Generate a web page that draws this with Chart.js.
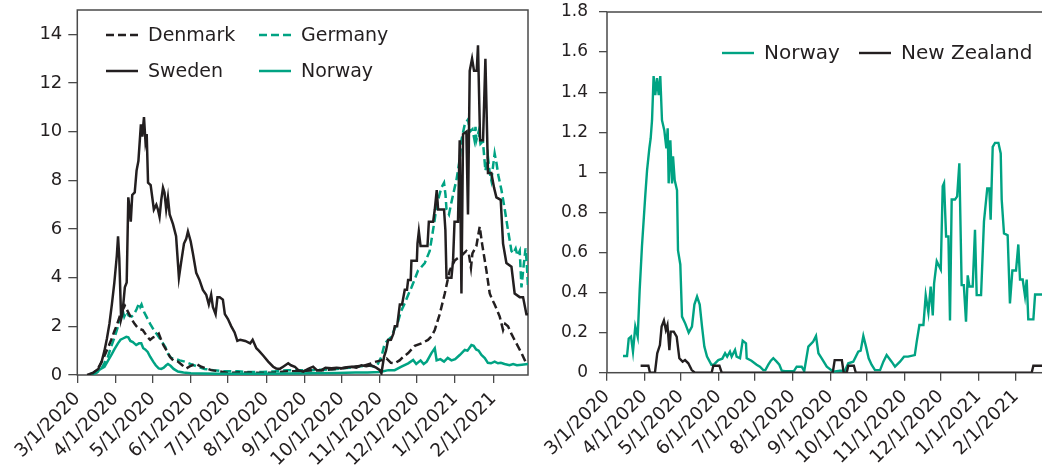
<!DOCTYPE html>
<html>
<head>
<meta charset="utf-8">
<script src="https://cdn.jsdelivr.net/npm/chart.js@4.4.0/dist/chart.umd.min.js"></script>
<style>
  html, body { margin: 0; padding: 0; background: #fff; overflow: hidden; width: 1042px; height: 469px; }
  #left { position: absolute; left: 0; top: 0; }
  #right { position: absolute; left: 520px; top: 0; }
</style>
</head>
<body>
<canvas id="left" width="530" height="469" style="width:530px;height:469px"></canvas>
<canvas id="right" width="540" height="469" style="width:540px;height:469px"></canvas>
<script>
// x values are days since 3/1/2020
const monthDays = [0, 31, 61, 92, 122, 153, 184, 214, 245, 275, 306, 337];
const monthLabels = ['3/1/2020', '4/1/2020', '5/1/2020', '6/1/2020', '7/1/2020', '8/1/2020',
  '9/1/2020', '10/1/2020', '11/1/2020', '12/1/2020', '1/1/2021', '2/1/2021'];
const leftYTicks = [0, 2, 4, 6, 8, 10, 12, 14];
const rightYTicks = [0, 0.2, 0.4, 0.6, 0.8, 1, 1.2, 1.4, 1.6, 1.8];

// left panel
const denmark = [[10,0],[14,0.1],[17,0.3],[19.4,0.5],[23,0.9],[27.5,1.45],[30,1.8],[31.6,2.0],[33,2.2],[35,2.5],[37,2.7],[38.5,2.85],[40,2.7],[42,2.5],[44,2.3],[46.4,2.1],[48,2.0],[50,1.9],[53,1.85],[55,1.7],[57,1.55],[59,1.45],[61.5,1.55],[64,1.6],[66,1.7],[67.5,1.5],[70,1.2],[72.4,1.0],[75,0.75],[77.7,0.6],[81.5,0.55],[85,0.4],[88.3,0.27],[91,0.35],[94,0.42],[96.6,0.45],[100.4,0.34],[104.7,0.27],[108.5,0.2],[115,0.15],[122,0.08],[130,0.1],[140,0.1],[150,0.08],[160,0.1],[170,0.15],[180,0.15],[190,0.2],[200,0.2],[210,0.25],[218,0.3],[225,0.35],[232,0.38],[238,0.48],[242,0.55],[246,0.6],[250.4,0.68],[254,0.5],[257,0.48],[261,0.6],[264,0.75],[268,0.9],[273.3,1.2],[278.7,1.3],[284,1.44],[287,1.6],[289.5,1.85],[293.5,2.5],[297.6,3.35],[301.6,4.3],[305.6,4.7],[308,4.8],[311.1,4.9],[313,5.0],[315.1,5.1],[317,5.0],[318.8,4.4],[320,5.0],[323.2,5.3],[325.9,6.1],[327.8,5.4],[331.3,4.3],[334,3.35],[336,3.1],[338,2.9],[342.1,2.4],[344.8,1.85],[346.5,2.1],[348.8,2.0],[351.5,1.7],[353.5,1.5],[355.6,1.3],[359.7,0.9],[362.9,0.55],[365,0.5]];
const germany = [[12,0],[16,0.1],[20,0.3],[24.8,0.75],[27,1.1],[30.5,1.6],[33,2.0],[35,2.3],[37,2.6],[38,2.4],[39.7,2.6],[41.5,2.45],[44,2.4],[46,2.5],[48,2.7],[50,2.95],[51,2.8],[52,2.9],[54,2.6],[56,2.4],[59,2.1],[62,1.85],[65.9,1.57],[68,1.4],[71.3,1.15],[73,0.9],[76,0.7],[80,0.65],[83,0.6],[87,0.55],[92,0.45],[97.7,0.34],[103,0.25],[110,0.2],[120,0.15],[130,0.15],[140,0.12],[150,0.12],[160,0.15],[170,0.2],[180,0.2],[190,0.2],[200,0.22],[210,0.25],[220,0.3],[228,0.35],[235,0.4],[240,0.35],[242.3,0.34],[246.3,0.75],[249,1.3],[252,1.45],[254.4,1.57],[257,1.9],[259.8,2.2],[262,2.6],[265.2,2.95],[268,3.3],[270.6,3.6],[273,3.9],[276,4.3],[278,4.4],[281.4,4.6],[283,4.8],[285.4,5.1],[287,5.6],[289.5,6.4],[291,7.0],[292.2,7.2],[294.9,7.7],[297,7.9],[298.2,7.4],[299,6.8],[301,6.6],[303,7.1],[305.6,7.7],[307,8.0],[308.3,8.4],[310,9.0],[311.1,9.65],[312.5,10.0],[313.8,10.3],[316.4,10.5],[318,10.0],[320,10.1],[321.5,9.7],[322.5,10.2],[323.2,9.65],[325,10.0],[326.5,9.5],[328.5,9.6],[330.5,8.4],[332.6,8.95],[334,8.3],[335.3,8.0],[336.5,8.5],[338,9.1],[339.5,8.7],[341,8.2],[343.5,7.6],[346.2,6.8],[348.8,5.95],[351.6,5.1],[353,5.0],[355,5.2],[356.5,4.9],[358.3,5.1],[359.7,3.6],[361.5,4.5],[363,5.2],[364,4.6],[365,3.6]];
const sweden = [[8,0],[13,0.1],[17,0.25],[20,0.6],[22,1.0],[24,1.5],[26,2.1],[28,2.9],[30,3.8],[32,4.9],[33,5.7],[34,4.8],[35.5,2.3],[36.5,2.5],[38.5,3.6],[40,3.8],[41.3,7.3],[42.2,6.9],[43.3,6.3],[44.5,7.4],[46.5,7.5],[48,8.4],[49.5,8.8],[51.5,10.3],[52.6,9.8],[54,10.6],[55.2,9.6],[56.2,9.9],[57.3,7.9],[59.4,7.8],[62,6.8],[64,7.0],[65.3,6.8],[66.6,6.5],[68,7.2],[69.4,7.7],[70.6,7.5],[72,6.8],[73.4,7.3],[74.8,6.6],[77.5,6.2],[80,5.7],[81.5,4.6],[82.3,4.0],[84,4.6],[86.4,5.4],[88.2,5.6],[89.6,5.9],[91.8,5.5],[93.6,5.0],[96.3,4.2],[99,3.9],[101.7,3.5],[104.4,3.3],[106.5,2.9],[108.4,3.3],[109.8,2.8],[112,2.5],[113.5,3.2],[115.3,3.2],[117.9,3.1],[119.5,2.5],[122,2.3],[124.7,2.0],[127.4,1.75],[129.6,1.4],[132,1.45],[136,1.4],[140,1.3],[142,1.45],[145,1.1],[147,1.0],[150.5,0.8],[154.6,0.55],[158.6,0.34],[161,0.27],[164,0.25],[167,0.35],[170.8,0.48],[173,0.4],[176.2,0.34],[179,0.2],[183,0.14],[187,0.25],[191,0.34],[194,0.2],[197.8,0.2],[201,0.3],[205.9,0.28],[210,0.3],[214,0.28],[218,0.32],[222,0.34],[226,0.3],[230,0.4],[234,0.36],[238,0.4],[242,0.3],[245,0.2],[246.3,0.07],[248.4,0.75],[250,1.0],[251.7,1.44],[254,1.45],[256,1.7],[257.1,2.0],[259,2.0],[261.2,2.9],[263,2.9],[265.2,3.5],[267,3.5],[267.9,3.9],[270,3.9],[270.6,4.7],[275,4.7],[275.5,5.4],[276.6,5.9],[278,5.3],[283.6,5.3],[284.7,6.3],[288.2,6.3],[289.5,6.8],[291.1,7.6],[292.2,6.8],[297,6.8],[298.1,5.95],[299,4.0],[303,4.0],[304.3,4.7],[305.5,6.3],[308.3,6.3],[309.7,9.65],[311.1,3.35],[312.4,9.9],[315.1,10.0],[316.4,6.6],[317.8,12.5],[319.7,13.0],[321.3,12.5],[323.5,12.5],[324.5,13.55],[326.2,9.65],[328.6,9.65],[330.5,13.0],[332.6,8.3],[335.3,8.3],[337.5,7.7],[339.4,7.3],[342.9,7.2],[344.8,5.4],[347.5,4.6],[351.6,4.45],[354.2,3.35],[358.3,3.2],[361,3.2],[363.7,2.5],[365,2.5]];
const norwayLeft = [[11,0.05],[15,0.12],[19,0.25],[22,0.34],[25,0.6],[27.5,0.82],[30,1.05],[32.9,1.3],[35,1.45],[37,1.5],[39.7,1.57],[41.3,1.55],[43,1.4],[45,1.35],[47.7,1.23],[50,1.3],[51.8,1.3],[53.4,1.1],[55,1.05],[57,0.95],[59,0.75],[61.5,0.55],[63.5,0.4],[65.9,0.27],[68,0.25],[70,0.3],[72,0.4],[73.4,0.45],[75.5,0.38],[78,0.25],[81.5,0.14],[86,0.1],[92,0.07],[100,0.06],[115,0.05],[130,0.05],[150,0.05],[170,0.06],[190,0.07],[210,0.08],[225,0.1],[235,0.1],[245,0.12],[252,0.2],[257,0.2],[262.5,0.34],[268,0.48],[272,0.62],[274.5,0.45],[278,0.6],[280.5,0.45],[283,0.55],[286.8,0.9],[289.5,1.1],[291,0.6],[294,0.65],[297,0.55],[300,0.7],[303,0.6],[306,0.65],[309.7,0.82],[313.8,1.03],[316,1.0],[319.2,1.23],[321,1.2],[323,1.05],[325,1.0],[327.3,0.82],[330,0.7],[332.5,0.5],[335,0.48],[338,0.55],[340.7,0.48],[343,0.5],[346,0.45],[350,0.4],[353,0.45],[356,0.4],[360,0.42],[365,0.45]];

// right panel
const norwayRight = [[13.2,0.083],[16.5,0.083],[17.9,0.17],[19.8,0.18],[21.4,0.105],[23.3,0.23],[25.3,0.18],[26.9,0.41],[28.8,0.63],[31.6,0.89],[33,1.01],[34.9,1.12],[36,1.17],[37.1,1.26],[38.4,1.48],[39.8,1.385],[41.2,1.47],[42.6,1.385],[43.9,1.48],[45.3,1.26],[47.2,1.21],[48.9,1.12],[50,1.22],[50.8,0.945],[52.2,1.16],[53.6,0.945],[54.4,1.08],[55.8,0.96],[57.7,0.91],[58.5,0.61],[60.4,0.54],[61.8,0.28],[64.5,0.245],[67.3,0.2],[70,0.23],[72,0.34],[74.2,0.38],[76.4,0.34],[78.3,0.23],[80.2,0.13],[82.4,0.08],[86,0.04],[88,0.04],[91.7,0.063],[95,0.07],[97.3,0.097],[99,0.08],[101.3,0.105],[102.7,0.08],[105.5,0.113],[106.8,0.08],[109.6,0.072],[111.8,0.16],[114.5,0.147],[115.1,0.072],[119,0.06],[123.3,0.04],[126,0.03],[128.8,0.013],[130.5,0.013],[132.9,0.04],[135,0.06],[137,0.072],[139.8,0.055],[142,0.04],[144,0.01],[146.7,0.008],[154,0.008],[156.3,0.03],[160.4,0.03],[162.5,0.008],[165.9,0.13],[169.9,0.155],[172.2,0.183],[174.2,0.097],[176.9,0.072],[181.1,0.03],[186.5,0.005],[192,0.01],[196,0.01],[198.8,0.047],[202.9,0.055],[207,0.105],[209,0.11],[211.2,0.183],[213.4,0.13],[215.6,0.072],[218,0.04],[220.8,0.013],[225,0.013],[227.7,0.055],[230.4,0.088],[234.5,0.055],[237.3,0.03],[241.4,0.055],[244.7,0.08],[248,0.08],[253.6,0.088],[255.2,0.155],[257.4,0.238],[260.7,0.238],[262.6,0.387],[264.8,0.3],[266.7,0.43],[268.4,0.286],[269.5,0.446],[271.7,0.556],[275,0.515],[276.6,0.93],[277.7,0.946],[279.4,0.68],[281.3,0.68],[282.6,0.26],[284,0.864],[286.7,0.864],[288.5,0.88],[290.3,1.045],[292.2,0.437],[294,0.437],[295.8,0.255],[297.2,0.486],[298.6,0.43],[301.3,0.43],[303.2,0.713],[304.6,0.387],[308.2,0.387],[310.6,0.755],[313.3,0.92],[315,0.92],[316.1,0.763],[317.8,1.127],[319.7,1.147],[322.5,1.147],[324.4,1.094],[325.2,0.864],[327.1,0.695],[330.1,0.686],[332,0.346],[334,0.51],[337,0.51],[338.9,0.64],[340.3,0.465],[342.5,0.465],[344.4,0.383],[345.8,0.465],[347.1,0.266],[351.3,0.266],[352.7,0.39],[365,0.39]];
const newZealand = [[27.7,0.035],[34.1,0.035],[35.4,0],[39.5,0],[41.4,0.097],[43.6,0.138],[45,0.23],[46.9,0.26],[48.5,0.213],[49.8,0.238],[51.4,0.113],[52.5,0.205],[55,0.205],[57.4,0.18],[59.6,0.072],[62.3,0.055],[64.3,0.063],[67,0.047],[69.8,0.013],[72.5,0],[86.2,0],[87.6,0.035],[92.6,0.035],[94.5,0],[186,0],[187.6,0.063],[193.5,0.063],[195,0],[197.5,0],[198.8,0.035],[203.4,0.035],[205,0],[349.9,0],[351.3,0.035],[365,0.035]];

const ink = '#231f20';
const green = '#00a383';
const axisCol = '#4a4a4a';
const fam = 'DejaVu Sans';

const pts = arr => arr.map(p => ({ x: p[0], y: p[1] }));

const frame = {
  id: 'frame',
  beforeDatasetsDraw(chart) {
    const { left, top, right, bottom } = chart.chartArea;
    const ctx = chart.ctx;
    ctx.save();
    ctx.strokeStyle = axisCol;
    ctx.lineWidth = 1.5;
    ctx.strokeRect(left, top, right - left, bottom - top);
    ctx.restore();
  }
};

const gridLegend = {
  id: 'gridLegend',
  afterDraw(chart, args, opts) {
    const ctx = chart.ctx;
    ctx.save();
    ctx.font = opts.size + 'px "' + fam + '"';
    ctx.textBaseline = 'middle';
    ctx.fillStyle = ink;
    opts.items.forEach(it => {
      const ds = chart.data.datasets[it.index];
      ctx.strokeStyle = ds.borderColor;
      ctx.lineWidth = ds.borderWidth;
      ctx.setLineDash(ds.borderDash || []);
      ctx.beginPath();
      ctx.moveTo(it.x, it.y);
      ctx.lineTo(it.x + 32, it.y);
      ctx.stroke();
      ctx.setLineDash([]);
      ctx.fillText(ds.label, it.x + 42, it.y + 1);
    });
    ctx.restore();
  }
};

function xAxis(h) {
  return {
    type: 'linear', min: 0, max: 365,
    afterBuildTicks: s => { s.ticks = monthDays.map(v => ({ value: v })); },
    afterFit: s => { s.height = h; s.paddingLeft = 0; s.paddingRight = 0; },
    ticks: {
      autoSkip: false, minRotation: 45, maxRotation: 45, padding: 5,
      color: ink, font: { family: fam, size: 18.5 },
      callback: v => monthLabels[monthDays.indexOf(v)]
    },
    grid: { drawOnChartArea: false, drawTicks: true, tickLength: 8, tickColor: axisCol, lineWidth: 1.3 },
    border: { display: false }
  };
}

function yAxis(w, max, ticks, size, tl, pad) {
  return {
    min: 0, max: max,
    afterBuildTicks: s => { s.ticks = ticks.map(v => ({ value: v })); },
    afterFit: s => { s.width = w; s.paddingTop = 0; s.paddingBottom = 0; },
    ticks: { padding: pad, color: ink, font: { family: fam, size: size }, callback: v => String(v) },
    grid: { drawOnChartArea: false, drawTicks: true, tickLength: tl, tickColor: axisCol, lineWidth: 1.3 },
    border: { display: false }
  };
}

function line(label, data, color, dash, order, width) {
  return {
    label: label, data: pts(data), borderColor: color, borderWidth: width || 2.5,
    borderDash: dash, pointRadius: 0, tension: 0, fill: false, order: order
  };
}

new Chart(document.getElementById('left'), {
  type: 'line',
  data: {
    datasets: [
      line('Denmark', denmark, ink, [8, 4], 2),
      line('Germany', germany, green, [8, 4], 3),
      line('Sweden', sweden, ink, [], 0),
      line('Norway', norwayLeft, green, [], 1)
    ]
  },
  options: {
    responsive: false, animation: false, events: [],
    layout: { padding: { top: 10, right: 2, left: 0, bottom: 0 } },
    scales: { x: xAxis(94), y: yAxis(77.3, 15, leftYTicks, 18, 9, 6) },
    plugins: {
      legend: { display: false }, tooltip: { enabled: false },
      gridLegend: { size: 19, items: [
        { index: 0, x: 106, y: 35 }, { index: 1, x: 259, y: 35 },
        { index: 2, x: 106, y: 71 }, { index: 3, x: 259, y: 71 }
      ] }
    }
  },
  plugins: [frame, gridLegend]
});

new Chart(document.getElementById('right'), {
  type: 'line',
  data: {
    datasets: [
      line('Norway', norwayRight, green, [], 1, 2.4),
      line('New Zealand', newZealand, ink, [], 0, 2.4)
    ]
  },
  options: {
    responsive: false, animation: false, events: [],
    layout: { padding: { top: 12, right: 10, left: 0, bottom: 0 } },
    scales: { x: xAxis(96.3), y: yAxis(87, 1.8, rightYTicks, 17, 8, 11) },
    plugins: {
      legend: { display: false }, tooltip: { enabled: false },
      gridLegend: { size: 20, items: [
        { index: 0, x: 202, y: 53 }, { index: 1, x: 339, y: 53 }
      ] }
    }
  },
  plugins: [frame, gridLegend]
});
</script>
</body>
</html>
